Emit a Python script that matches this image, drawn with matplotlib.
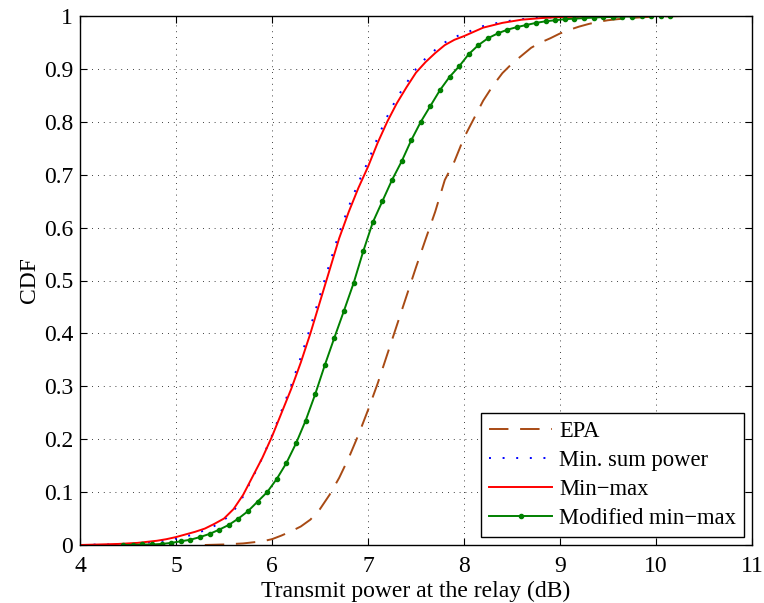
import numpy as np
import matplotlib.pyplot as plt

# CDF curves (x in dB)
epa_x = [5.3, 5.5, 5.7, 5.9, 6.0, 6.1, 6.2, 6.3, 6.4, 6.5, 6.6, 6.7, 6.8, 6.9, 7.0,
         7.1, 7.2, 7.3, 7.4, 7.5, 7.6, 7.7, 7.8, 7.9, 8.0, 8.1, 8.2, 8.3, 8.4, 8.5,
         8.6, 8.7, 8.8, 8.9, 9.0, 9.1, 9.2, 9.3, 9.4, 9.5, 9.6, 9.8, 10.0, 10.3, 11.0]
epa_y = [0.0, 0.001, 0.003, 0.007, 0.011, 0.018, 0.026, 0.035, 0.048, 0.068, 0.095,
         0.127, 0.165, 0.208, 0.255, 0.305, 0.36, 0.415, 0.47, 0.525, 0.578, 0.63,
         0.69, 0.725, 0.77, 0.805, 0.84, 0.868, 0.892, 0.91, 0.925, 0.94, 0.95,
         0.958, 0.967, 0.974, 0.98, 0.985, 0.989, 0.992, 0.994, 0.997, 0.999, 1.0, 1.0]

mm_x = [4.0, 4.2, 4.4, 4.6, 4.8, 4.9, 5.0, 5.1, 5.2, 5.3, 5.4, 5.5, 5.6, 5.7, 5.8,
        5.9, 6.0, 6.1, 6.2, 6.3, 6.4, 6.5, 6.6, 6.7, 6.8, 6.9, 7.0, 7.1, 7.2, 7.3,
        7.4, 7.5, 7.6, 7.7, 7.8, 7.9, 8.0, 8.2, 8.4, 8.6, 8.8, 9.0, 9.3, 9.6, 11.0]
minsum_y = [0.0, 0.001, 0.001, 0.003, 0.006, 0.009, 0.012, 0.016, 0.021, 0.028, 0.036,
            0.047, 0.064, 0.092, 0.128, 0.165, 0.207, 0.254, 0.302, 0.355, 0.412,
            0.472, 0.532, 0.59, 0.64, 0.685, 0.725, 0.77, 0.81, 0.845, 0.873, 0.9,
            0.92, 0.936, 0.95, 0.96, 0.967, 0.981, 0.989, 0.994, 0.997, 0.998,
            0.999, 1.0, 1.0]
minmax_y = [0.0, 0.001, 0.002, 0.004, 0.008, 0.011, 0.015, 0.02, 0.025, 0.031, 0.04,
            0.05, 0.068, 0.095, 0.13, 0.165, 0.205, 0.25, 0.295, 0.345, 0.4, 0.46,
            0.52, 0.58, 0.63, 0.675, 0.715, 0.76, 0.8, 0.835, 0.865, 0.893, 0.913,
            0.93, 0.945, 0.955, 0.962, 0.978, 0.987, 0.993, 0.996, 0.998, 0.999,
            1.0, 1.0]

mod_x = [4.45, 4.55, 4.65, 4.75, 4.85, 4.95, 5.05, 5.15, 5.25, 5.35, 5.45, 5.55,
         5.65, 5.75, 5.85, 5.95, 6.05, 6.15, 6.25, 6.35, 6.45, 6.55, 6.65, 6.75,
         6.85, 6.95, 7.05, 7.15, 7.25, 7.35, 7.45, 7.55, 7.65, 7.75, 7.85, 7.95,
         8.05, 8.15, 8.25, 8.35, 8.45, 8.55, 8.65, 8.75, 8.85, 8.95, 9.05, 9.15,
         9.25, 9.35, 9.45, 9.55, 9.65, 9.75, 9.85, 9.95, 10.05, 10.15]
mod_y = [0.0, 0.0, 0.001, 0.001, 0.002, 0.004, 0.007, 0.01, 0.015, 0.021, 0.029,
         0.038, 0.05, 0.064, 0.082, 0.1, 0.125, 0.155, 0.192, 0.235, 0.285, 0.34,
         0.392, 0.443, 0.495, 0.555, 0.61, 0.65, 0.69, 0.725, 0.765, 0.8, 0.83,
         0.86, 0.885, 0.905, 0.928, 0.945, 0.958, 0.967, 0.974, 0.979, 0.983,
         0.987, 0.99, 0.992, 0.994, 0.995, 0.996, 0.997, 0.998, 0.998, 0.999,
         0.999, 1.0, 1.0, 1.0, 1.0]

x_ticks = [4, 5, 6, 7, 8, 9, 10, 11]
y_ticks = [0, 0.1, 0.2, 0.3, 0.4, 0.5, 0.6, 0.7, 0.8, 0.9, 1]
y_labels = ['0', '0.1', '0.2', '0.3', '0.4', '0.5', '0.6', '0.7', '0.8', '0.9', '1']

plt.rcParams['font.family'] = ['Liberation Serif', 'DejaVu Serif']
plt.rcParams['font.size'] = 17

fig = plt.figure(figsize=(7.64, 6.03), dpi=100)
ax = fig.add_axes([80 / 764, 1 - 545 / 603, 672 / 764, 529 / 603])

ax.plot(epa_x, epa_y, color='#A84A14', linestyle=(0, (10, 6)), linewidth=1.4, label='EPA')
ax.plot(mm_x, minsum_y, color='#0000FF', linestyle=(0, (1, 6)), linewidth=1.4,
        label='Min. sum power')
ax.plot(mm_x, minmax_y, color='#FF0000', linewidth=1.4, label='Min\u2212max')
ax.plot(mod_x, mod_y, color='#008000', linewidth=1.4, marker='o', markersize=3,
        label='Modified min\u2212max')

ax.set_xlim(4, 11)
ax.set_ylim(0, 1)
ax.set_xticks(x_ticks)
ax.set_yticks(y_ticks)
ax.set_yticklabels(y_labels)
ax.grid(True, color='black', linestyle=(0, (1, 6)), linewidth=0.6)
ax.tick_params(direction='in', top=True, right=True, length=5, width=0.8, pad=5)
ax.tick_params(axis='x', pad=8)
for s in ax.spines.values():
    s.set_linewidth(1.0)

ax.set_xlabel('Transmit power at the relay (dB)', labelpad=3)
ax.set_ylabel('CDF', labelpad=3)

leg = ax.legend(loc='lower right', fancybox=False, edgecolor='black', framealpha=1,
                fontsize=16.3, handlelength=2.8, labelspacing=0.36, borderaxespad=0.35,
                handletextpad=0.3, borderpad=0.35)
leg.get_frame().set_linewidth(1.0)

fig.savefig('out.png', dpi=100)
